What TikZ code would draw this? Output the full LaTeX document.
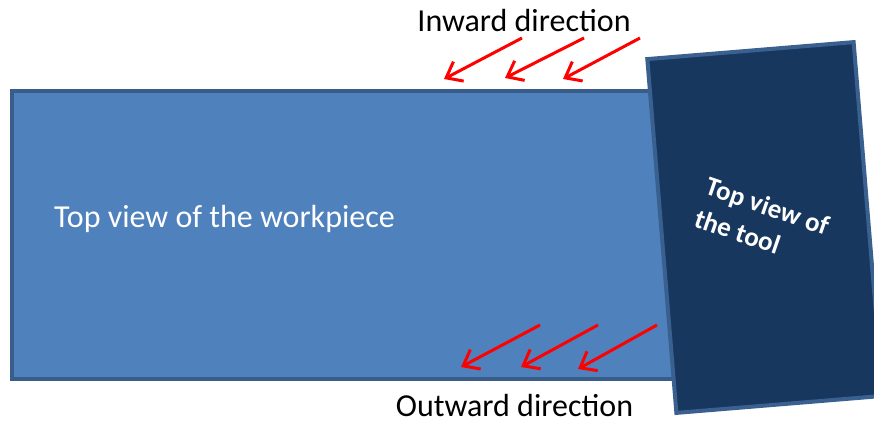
\documentclass[tikz,border=0pt]{standalone}
\usepackage{fontspec}
\setmainfont{Carlito}
\usetikzlibrary{arrows.meta}
\definecolor{wpfill}{HTML}{4F81BD}
\definecolor{wpline}{HTML}{385D8A}
\definecolor{toolfill}{HTML}{17375E}
\definecolor{toolline}{HTML}{3A6090}
\begin{document}
\begin{tikzpicture}[x=1pt,y=-1pt,
  workpiece/.style={draw=wpline,fill=wpfill,line width=4pt,inner sep=0pt,
    minimum width=668pt,minimum height=288pt},
  toolbox/.style={draw=toolline,fill=toolfill,line width=4pt,inner sep=0pt,
    minimum width=207pt,minimum height=355pt,rotate=4.7},
  label/.style={font=\fontsize{32}{38}\selectfont,inner sep=0pt},
  toollabel/.style={font=\fontsize{27}{34}\selectfont\bfseries,text=white,
    align=left,inner sep=0pt,rotate=-19},
  flow/.style={draw=red,line width=3pt,-{Straight Barb[length=14pt,width=22pt,line width=3pt]}}]
\useasboundingbox (0,0) rectangle (874,423);
\fill[white] (0,0) rectangle (874,423);
\node[workpiece] (wp) at (346,235) {};
\node[label,text=white,anchor=base west] (wptext) at (54,227) {Top view of the workpiece};
\node[toolbox] (tool) at (765,227.5) {};
\node[toollabel] (tooltext) at (762,222) {Top view of\\the tool};
\node[label,anchor=base] (inward) at (524,31.5) {Inward direction};
\node[label,anchor=base] (outward) at (514.5,416.5) {Outward direction};
\coordinate (i1s) at (522,38); \coordinate (i1e) at (444,79);
\coordinate (i2s) at (584,38); \coordinate (i2e) at (505,78);
\coordinate (i3s) at (640,38); \coordinate (i3e) at (563,79);
\coordinate (o1s) at (540,325); \coordinate (o1e) at (461,367);
\coordinate (o2s) at (598,325); \coordinate (o2e) at (521,367);
\coordinate (o3s) at (657,325); \coordinate (o3e) at (578,369);
\draw[flow] (i1s) -- (i1e);
\draw[flow] (i2s) -- (i2e);
\draw[flow] (i3s) -- (i3e);
\draw[flow] (o1s) -- (o1e);
\draw[flow] (o2s) -- (o2e);
\draw[flow] (o3s) -- (o3e);
\end{tikzpicture}
\end{document}
